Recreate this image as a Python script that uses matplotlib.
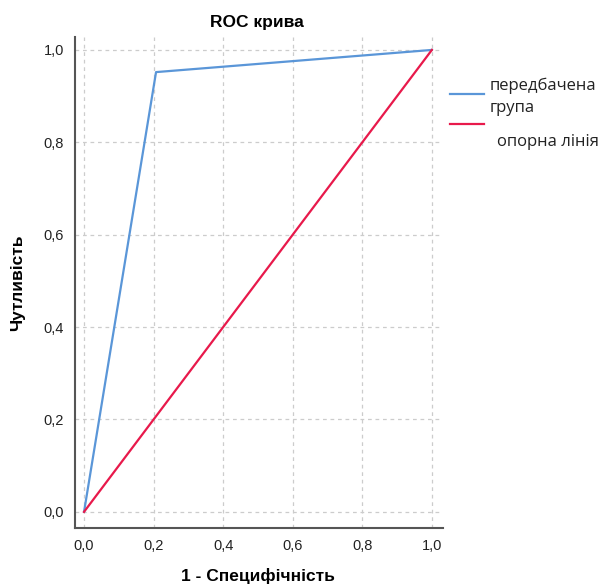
import matplotlib
matplotlib.use("Agg")
import matplotlib.pyplot as plt
from matplotlib.lines import Line2D

plt.rcParams['font.family'] = ['Liberation Sans', 'DejaVu Sans']

# ROC points (1 - specificity, sensitivity)
fpr = [0.0, 0.207, 1.0]
tpr = [0.0, 0.952, 1.0]
ref_x = [0.0, 1.0]
ref_y = [0.0, 1.0]
ticks = [0.0, 0.2, 0.4, 0.6, 0.8, 1.0]
tick_labels = ['0,0', '0,2', '0,4', '0,6', '0,8', '1,0']

blue = '#5a96d8'
red = '#e8194b'

fig = plt.figure(figsize=(6, 5.84), dpi=100)
# axes in pixels: left 75, right 443, top 37, bottom 528
ax = fig.add_axes([75 / 600, 1 - 528 / 584, (443 - 75) / 600, (528 - 37) / 584])

ax.plot(fpr, tpr, color=blue, lw=1.6)
ax.plot(ref_x, ref_y, color=red, lw=1.6)

ax.set_xlim(-0.026, 1.032)
ax.set_ylim(-0.035, 1.028)
ax.set_xticks(ticks)
ax.set_xticklabels(tick_labels)
ax.set_yticks(ticks)
ax.set_yticklabels(tick_labels)
ax.tick_params(length=0, labelsize=10.5, colors='#222222', pad=8)
ax.grid(True, color='#cccccc', linestyle=(0, (3, 3)), lw=0.9)
ax.set_axisbelow(True)
for s in ['top', 'right']:
    ax.spines[s].set_visible(False)
for s in ['left', 'bottom']:
    ax.spines[s].set_color('#555555')
    ax.spines[s].set_linewidth(1.5)

fig.text(257 / 600, 1 - 22 / 584, 'ROC крива', ha='center', va='center',
         fontsize=12.5, fontweight='bold')
fig.text(18 / 600, 1 - 283 / 584, 'Чутливість', ha='center', va='center',
         rotation=90, fontsize=12.5, fontweight='bold')
fig.text(258 / 600, 1 - 576 / 584, '1 - Специфічність', ha='center', va='center',
         fontsize=12.5, fontweight='bold')

# legend drawn by hand, SPSS style
leg_font = ['Open Sans', 'DejaVu Sans']
fig.add_artist(Line2D([450 / 600, 484 / 600], [1 - 94 / 584] * 2, color=blue, lw=1.6))
fig.add_artist(Line2D([450 / 600, 484 / 600], [1 - 124 / 584] * 2, color=red, lw=1.6))
fig.text(490 / 600, 1 - 86 / 584, 'передбачена', va='center', fontsize=12,
         family=leg_font, color='#222222')
fig.text(490 / 600, 1 - 108 / 584, 'група', va='center', fontsize=12,
         family=leg_font, color='#222222')
fig.text(497 / 600, 1 - 142 / 584, 'опорна лінія', va='center', fontsize=12,
         family=leg_font, color='#222222')

fig.savefig('out.png', dpi=100, facecolor='white')
